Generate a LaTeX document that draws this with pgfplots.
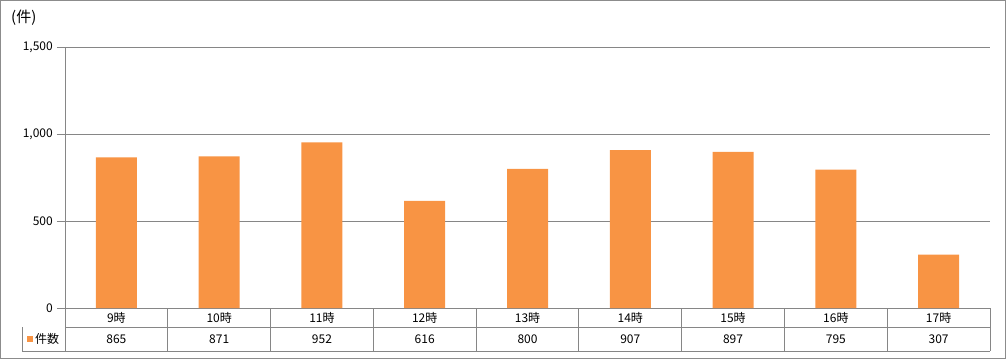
\documentclass[border=0pt]{standalone}
\usepackage{pgfplots}
\usepackage{pgfplotstable}
\pgfplotsset{compat=1.18}
\usepackage{fontspec}
\setmainfont{Noto Sans CJK JP}
\definecolor{barorange}{RGB}{248,148,68}
\definecolor{gridgray}{RGB}{134,134,134}
\definecolor{framegray}{RGB}{140,140,140}
\pgfplotstableread{
x cat v
1 9時 865
2 10時 871
3 11時 952
4 12時 616
5 13時 800
6 14時 907
7 15時 897
8 16時 795
9 17時 307
}\data
\begin{document}
\fontsize{12bp}{14bp}\selectfont
\begin{tikzpicture}[x=1bp,y=1bp]
\draw[framegray, line width=1bp] (0.5,0.5) rectangle (1005.5,358.5);
\begin{axis}[
  at={(65bp,51bp)}, anchor=south west,
  scale only axis, width=925bp, height=261bp,
  xmin=0.5, xmax=9.5, ymin=0, ymax=1500,
  xtick=\empty, ytick={0,500,1000,1500},
  axis lines*=left,
  axis line style={gridgray, line width=0.8bp},
  ymajorgrids, grid style={gridgray, line width=0.8bp},
  tick align=outside, major tick length=8bp,
  ytick style={gridgray, line width=0.8bp},
  scaled y ticks=false,
  yticklabel style={/pgf/number format/1000 sep={,}, /pgf/number format/assume math mode=true, font=\fontsize{12bp}{14bp}\selectfont, inner sep=4bp},
  clip=false,
]
\addplot[ybar, bar width=41bp, bar shift=0pt, fill=barorange, draw=none] table[x=x, y=v] {\data};
\addplot[only marks, mark=none, nodes near coords, point meta=explicit symbolic,
  every node near coord/.append style={anchor=center, inner sep=0pt, text=black, font=\fontsize{12bp}{14bp}\selectfont}]
  table[x=x, y expr=-54.6, meta=cat] {\data};
\addplot[only marks, mark=none, nodes near coords, point meta=explicit symbolic,
  every node near coord/.append style={anchor=center, inner sep=0pt, text=black, font=\fontsize{12bp}{14bp}\selectfont}]
  table[x=x, y expr=-178.2, meta=v] {\data};
\end{axis}
% data table grid
\draw[gridgray, line width=0.8bp] (65,32) -- (990,32);
\draw[gridgray, line width=0.8bp] (22,8) -- (990,8);
\draw[gridgray, line width=0.8bp] (22,32) -- (22,8);
\foreach \i in {0,...,9} {
  \draw[gridgray, line width=0.8bp] ({65+\i*102.7778},51) -- ({65+\i*102.7778},8);
}
\fill[barorange] (27,17) rectangle (33,23);
\node[anchor=west, inner sep=0pt] at (35,20) {件数};
\node[anchor=west, inner sep=0pt, font=\fontsize{15bp}{17bp}\selectfont] at (11,341) {(件)};
\end{tikzpicture}
\end{document}
